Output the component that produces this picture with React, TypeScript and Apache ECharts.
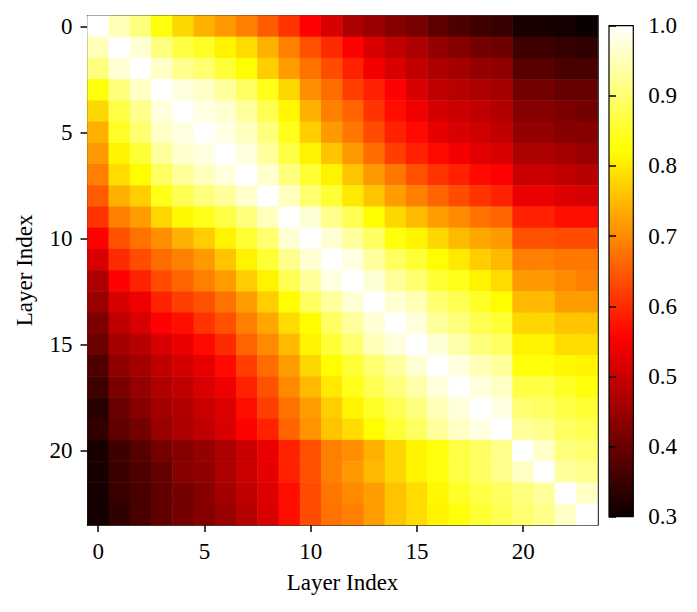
import React, { useEffect, useRef } from "react";
import * as echarts from "echarts";

const layerLabels: string[] = Array.from({ length: 24 }, (_, i) => String(i));
const colorbarTicks: number[] = [0.3, 0.4, 0.5, 0.6, 0.7, 0.8, 0.9, 1.0];
const axisTitle = "Layer Index";
const vMin = 0.3;
const vMax = 1.0;

// similarity matrix, row = layer (y), column = layer (x)
const similarity: number[][] = [
  [1.0, 0.95, 0.91, 0.83, 0.78, 0.74, 0.715, 0.69, 0.65, 0.61, 0.556, 0.515, 0.47, 0.45, 0.43, 0.415, 0.385, 0.37, 0.355, 0.345, 0.315, 0.315, 0.31, 0.30],
  [0.95, 1.0, 0.97, 0.91, 0.87, 0.85, 0.81, 0.785, 0.74, 0.69, 0.64, 0.60, 0.556, 0.515, 0.49, 0.47, 0.445, 0.43, 0.41, 0.405, 0.355, 0.355, 0.345, 0.34],
  [0.91, 0.97, 1.0, 0.96, 0.92, 0.90, 0.86, 0.82, 0.77, 0.72, 0.675, 0.635, 0.59, 0.545, 0.515, 0.49, 0.47, 0.46, 0.445, 0.44, 0.38, 0.38, 0.365, 0.365],
  [0.83, 0.91, 0.96, 1.0, 0.975, 0.96, 0.93, 0.89, 0.84, 0.78, 0.705, 0.67, 0.62, 0.59, 0.556, 0.515, 0.49, 0.48, 0.47, 0.46, 0.41, 0.41, 0.395, 0.395],
  [0.78, 0.87, 0.92, 0.975, 1.0, 0.98, 0.965, 0.93, 0.88, 0.815, 0.74, 0.69, 0.66, 0.61, 0.57, 0.54, 0.51, 0.50, 0.49, 0.475, 0.43, 0.43, 0.42, 0.41],
  [0.74, 0.85, 0.90, 0.96, 0.98, 1.0, 0.98, 0.955, 0.91, 0.84, 0.77, 0.715, 0.68, 0.635, 0.59, 0.565, 0.53, 0.515, 0.505, 0.49, 0.445, 0.445, 0.43, 0.43],
  [0.715, 0.81, 0.86, 0.93, 0.965, 0.98, 1.0, 0.975, 0.93, 0.87, 0.81, 0.76, 0.715, 0.67, 0.62, 0.59, 0.565, 0.545, 0.525, 0.515, 0.47, 0.47, 0.46, 0.45],
  [0.69, 0.785, 0.82, 0.89, 0.93, 0.955, 0.975, 1.0, 0.965, 0.91, 0.86, 0.81, 0.76, 0.715, 0.68, 0.64, 0.61, 0.59, 0.565, 0.556, 0.50, 0.50, 0.49, 0.48],
  [0.65, 0.74, 0.77, 0.84, 0.88, 0.91, 0.93, 0.965, 1.0, 0.955, 0.90, 0.86, 0.80, 0.76, 0.72, 0.69, 0.66, 0.635, 0.61, 0.59, 0.535, 0.535, 0.52, 0.515],
  [0.61, 0.69, 0.72, 0.78, 0.815, 0.84, 0.87, 0.91, 0.955, 1.0, 0.97, 0.92, 0.88, 0.82, 0.78, 0.75, 0.72, 0.70, 0.675, 0.66, 0.59, 0.59, 0.57, 0.57],
  [0.556, 0.64, 0.675, 0.705, 0.74, 0.77, 0.81, 0.86, 0.90, 0.97, 1.0, 0.97, 0.93, 0.89, 0.83, 0.81, 0.78, 0.75, 0.73, 0.715, 0.64, 0.64, 0.635, 0.635],
  [0.515, 0.60, 0.635, 0.67, 0.69, 0.715, 0.76, 0.81, 0.86, 0.92, 0.97, 1.0, 0.98, 0.93, 0.89, 0.86, 0.82, 0.80, 0.77, 0.75, 0.69, 0.69, 0.68, 0.68],
  [0.47, 0.556, 0.59, 0.635, 0.66, 0.69, 0.72, 0.77, 0.81, 0.88, 0.93, 0.98, 1.0, 0.97, 0.93, 0.90, 0.86, 0.84, 0.81, 0.785, 0.715, 0.715, 0.70, 0.69],
  [0.45, 0.515, 0.54, 0.59, 0.62, 0.64, 0.675, 0.72, 0.77, 0.82, 0.89, 0.93, 0.97, 1.0, 0.97, 0.95, 0.90, 0.88, 0.85, 0.82, 0.75, 0.75, 0.72, 0.72],
  [0.42, 0.49, 0.515, 0.556, 0.57, 0.61, 0.64, 0.69, 0.73, 0.785, 0.82, 0.89, 0.93, 0.97, 1.0, 0.975, 0.93, 0.91, 0.88, 0.86, 0.78, 0.78, 0.76, 0.76],
  [0.40, 0.46, 0.48, 0.515, 0.535, 0.565, 0.60, 0.66, 0.70, 0.75, 0.81, 0.86, 0.90, 0.95, 0.975, 1.0, 0.97, 0.94, 0.91, 0.89, 0.81, 0.81, 0.785, 0.785],
  [0.37, 0.44, 0.46, 0.49, 0.51, 0.53, 0.565, 0.62, 0.67, 0.72, 0.78, 0.82, 0.86, 0.90, 0.93, 0.97, 1.0, 0.975, 0.95, 0.93, 0.83, 0.83, 0.815, 0.81],
  [0.356, 0.42, 0.445, 0.475, 0.49, 0.515, 0.54, 0.59, 0.64, 0.70, 0.75, 0.80, 0.84, 0.88, 0.91, 0.94, 0.975, 1.0, 0.975, 0.96, 0.87, 0.87, 0.85, 0.83],
  [0.33, 0.40, 0.43, 0.46, 0.475, 0.50, 0.52, 0.57, 0.62, 0.675, 0.72, 0.77, 0.81, 0.85, 0.88, 0.91, 0.95, 0.975, 1.0, 0.98, 0.90, 0.89, 0.87, 0.86],
  [0.34, 0.39, 0.41, 0.45, 0.47, 0.49, 0.515, 0.556, 0.59, 0.66, 0.71, 0.76, 0.785, 0.82, 0.86, 0.89, 0.93, 0.96, 0.98, 1.0, 0.93, 0.92, 0.89, 0.88],
  [0.315, 0.355, 0.38, 0.41, 0.43, 0.445, 0.47, 0.50, 0.535, 0.59, 0.64, 0.69, 0.705, 0.74, 0.78, 0.81, 0.83, 0.87, 0.89, 0.92, 1.0, 0.96, 0.91, 0.90],
  [0.315, 0.35, 0.37, 0.395, 0.43, 0.44, 0.47, 0.50, 0.53, 0.59, 0.64, 0.69, 0.715, 0.75, 0.78, 0.81, 0.83, 0.87, 0.89, 0.92, 0.96, 1.0, 0.93, 0.92],
  [0.31, 0.35, 0.365, 0.39, 0.41, 0.43, 0.46, 0.49, 0.52, 0.57, 0.635, 0.68, 0.70, 0.72, 0.76, 0.785, 0.815, 0.85, 0.87, 0.89, 0.91, 0.93, 1.0, 0.96],
  [0.31, 0.34, 0.365, 0.39, 0.41, 0.43, 0.45, 0.48, 0.515, 0.57, 0.635, 0.675, 0.69, 0.72, 0.76, 0.785, 0.81, 0.83, 0.86, 0.88, 0.90, 0.92, 0.96, 1.0],
];

// matplotlib "hot" colormap
const hot = (t: number): string => {
  const c = (x: number) => Math.max(0, Math.min(1, x));
  const r = c(0.0416 + (t * (1 - 0.0416)) / 0.365079);
  const g = c((t - 0.365079) / (0.746032 - 0.365079));
  const b = c((t - 0.746032) / (1 - 0.746032));
  const h = (x: number) => Math.round(x * 255).toString(16).padStart(2, "0");
  return "#" + h(r) + h(g) + h(b);
};

const FONT = "'Liberation Serif', 'Times New Roman', Times, serif";

export default function App() {
  const ref = useRef<HTMLDivElement>(null);
  useEffect(() => {
    if (!ref.current) return;
    const chart = echarts.init(ref.current, undefined, { renderer: "svg" });
    const data: [number, number, number][] = [];
    similarity.forEach((row, r) => row.forEach((v, c) => data.push([c, r, v])));
    const ramp = Array.from({ length: 256 }, (_, i) => hot(i / 255));
    const every5 = (i: number) => i % 5 === 0;
    const labelStyle = { fontFamily: FONT, fontSize: 23, color: "#000" };
    const line = { show: true, lineStyle: { color: "#000", width: 1.5 } };
    chart.setOption({
      animation: false,
      backgroundColor: "#fff",
      grid: [
        { left: 87.5, top: 15.7, width: 510, height: 509.3, show: false },
        {
          left: 609,
          top: 25.7,
          width: 24.3,
          height: 491,
          show: true,
          borderColor: "#000",
          borderWidth: 1.2,
          backgroundColor: new echarts.graphic.LinearGradient(0, 1, 0, 0, [
            { offset: 0, color: hot(0) },
            { offset: 0.365079, color: hot(0.365079) },
            { offset: 0.746032, color: hot(0.746032) },
            { offset: 1, color: hot(1) },
          ]),
        },
      ],
      xAxis: [
        {
          type: "category",
          gridIndex: 0,
          data: layerLabels,
          position: "bottom",
          name: axisTitle,
          nameLocation: "middle",
          nameGap: 46,
          nameTextStyle: labelStyle,
          axisLine: line,
          axisTick: { show: true, alignWithLabel: true, interval: every5, length: 7, lineStyle: { color: "#000", width: 1.5 } },
          axisLabel: { ...labelStyle, interval: every5, margin: 15 },
          splitLine: { show: false },
        },
        {
          type: "category",
          gridIndex: 0,
          data: layerLabels,
          position: "top",
          axisLine: line,
          axisTick: { show: false },
          axisLabel: { show: false },
        },
        { type: "value", gridIndex: 1, show: false, min: 0, max: 1 },
      ],
      yAxis: [
        {
          type: "category",
          gridIndex: 0,
          data: layerLabels,
          inverse: true,
          position: "left",
          name: axisTitle,
          nameLocation: "middle",
          nameGap: 52,
          nameRotate: 90,
          nameTextStyle: labelStyle,
          axisLine: line,
          axisTick: { show: true, alignWithLabel: true, interval: every5, length: 7, lineStyle: { color: "#000", width: 1.5 } },
          axisLabel: { ...labelStyle, interval: every5, margin: 15 },
          splitLine: { show: false },
        },
        {
          type: "category",
          gridIndex: 0,
          data: layerLabels,
          inverse: true,
          position: "right",
          axisLine: line,
          axisTick: { show: false },
          axisLabel: { show: false },
        },
        {
          type: "value",
          gridIndex: 1,
          position: "right",
          min: colorbarTicks[0],
          max: colorbarTicks[colorbarTicks.length - 1],
          interval: 0.1,
          axisLine: { show: false },
          axisTick: { show: true, length: 7, lineStyle: { color: "#000", width: 1.5 } },
          axisLabel: { ...labelStyle, margin: 15, formatter: (v: number) => v.toFixed(1) },
          splitLine: { show: false },
        },
      ],
      visualMap: {
        type: "continuous",
        show: false,
        min: vMin,
        max: vMax,
        seriesIndex: 0,
        inRange: { color: ramp },
      },
      series: [
        {
          type: "heatmap",
          xAxisIndex: 0,
          yAxisIndex: 0,
          data,
          itemStyle: { borderWidth: 0 },
          emphasis: { disabled: true },
        },
      ],
    });
    return () => chart.dispose();
  }, []);
  return (
    <div
      ref={ref}
      style={{ position: "fixed", left: 0, top: 0, width: 697, height: 612, background: "#fff" }}
    />
  );
}
